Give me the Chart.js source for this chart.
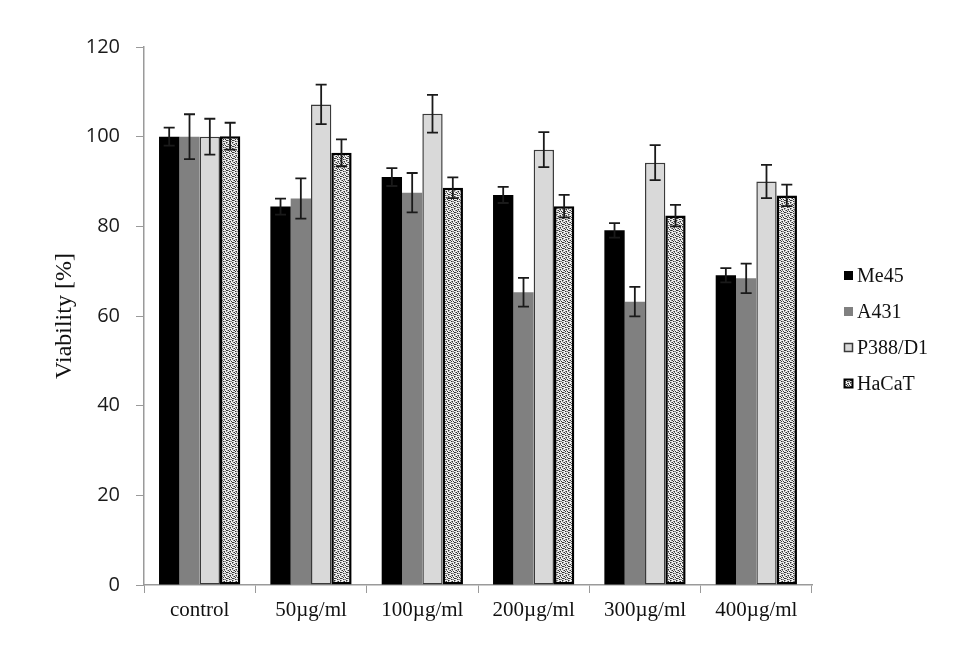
<!DOCTYPE html>
<html>
<head>
<meta charset="utf-8">
<script src="https://cdn.jsdelivr.net/npm/chart.js@4"></script>
<style>
  html, body { margin: 0; padding: 0; background: #fff; }
  #wrap { width: 973px; height: 647px; }
</style>
</head>
<body>
<div id="wrap"><canvas id="viabilityChart" width="973" height="647"></canvas></div>
<script>
// --- Data ---
const categories = ['control', '50\u00b5g/ml', '100\u00b5g/ml', '200\u00b5g/ml', '300\u00b5g/ml', '400\u00b5g/ml'];
const seriesNames = ['Me45', 'A431', 'P388/D1', 'HaCaT'];

const me45Values = [100, 84.4, 91, 87, 79.1, 69.1];
const a431Values = [100, 86.2, 87.5, 65.3, 63.2, 68.4];
const p388Values = [100, 107.2, 105.1, 97.1, 94.2, 90];
const hacatValues = [100.1, 96.4, 88.6, 84.5, 82.4, 86.9];

const me45Errors = [2, 1.8, 2, 1.8, 1.6, 1.6];
const a431Errors = [5, 4.5, 4.4, 3.2, 3.3, 3.3];
const p388Errors = [4, 4.4, 4.2, 3.9, 3.9, 3.7];
const hacatErrors = [3, 3, 2.3, 2.5, 2.4, 2.4];

const yTicks = { min: 0, max: 120, step: 20 };

// --- Stipple pattern for HaCaT ---
function makeStipple() {
    const c = document.createElement('canvas');
    c.width = 6; c.height = 6;
    const g = c.getContext('2d');
    g.fillStyle = '#eeeeee';
    g.fillRect(0, 0, 6, 6);
    const dark = [[0, 0], [3, 1], [1, 3], [4, 4], [5, 2], [2, 5], [1, 1], [4, 2]];
    const mid = [[2, 0], [5, 0], [0, 2], [3, 3], [1, 5], [4, 5], [2, 3], [5, 4]];
    g.fillStyle = '#333333';
    dark.forEach(p => g.fillRect(p[0], p[1], 1, 1));
    g.fillStyle = '#8a8a8a';
    mid.forEach(p => g.fillRect(p[0], p[1], 1, 1));
    return g.createPattern(c, 'repeat');
}
const stipple = makeStipple();

const serif = '"Liberation Serif", "Times New Roman", serif';
const sans = '"Open Sans", "Liberation Sans", sans-serif';

// --- Error bars plugin ---
const errorBarPlugin = {
    id: 'errorBars',
    afterDatasetsDraw(chart) {
        const ctx = chart.ctx;
        const yScale = chart.scales.y;
        ctx.save();
        ctx.strokeStyle = '#1a1a1a';
        ctx.lineWidth = 1.8;
        chart.data.datasets.forEach((ds, i) => {
            const meta = chart.getDatasetMeta(i);
            meta.data.forEach((bar, j) => {
                const v = ds.data[j];
                const e = ds.errors[j];
                const yTop = yScale.getPixelForValue(v + e);
                const yBot = yScale.getPixelForValue(v - e);
                const x = bar.x;
                const half = 5.5;
                ctx.beginPath();
                ctx.moveTo(x, yTop); ctx.lineTo(x, yBot);
                ctx.moveTo(x - half, yTop); ctx.lineTo(x + half, yTop);
                ctx.moveTo(x - half, yBot); ctx.lineTo(x + half, yBot);
                ctx.stroke();
            });
        });
        ctx.restore();
    }
};

// --- Legend plugin (right side) ---
const sideLegendPlugin = {
    id: 'sideLegend',
    afterDraw(chart) {
        const ctx = chart.ctx;
        const area = chart.chartArea;
        const x = area.right + 32;
        const midY = (area.top + area.bottom) / 2 + 14;
        const gap = 36;
        ctx.save();
        ctx.font = '20px ' + serif;
        ctx.textBaseline = 'middle';
        ctx.textAlign = 'left';
        chart.data.datasets.forEach((ds, i) => {
            const y = midY + (i - 1.5) * gap;
            ctx.fillStyle = ds.backgroundColor;
            ctx.fillRect(x, y - 5, 9, 9);
            if (ds.borderWidth) {
                ctx.strokeStyle = ds.borderColor;
                ctx.lineWidth = Math.min(ds.borderWidth, 2);
                ctx.strokeRect(x + 0.5, y - 4.5, 8, 8);
            }
            ctx.fillStyle = '#111';
            ctx.fillText(ds.label, x + 13, y + 1);
        });
        ctx.restore();
    }
};

// --- Chart ---
const ctx = document.getElementById('viabilityChart').getContext('2d');
new Chart(ctx, {
    type: 'bar',
    data: {
        labels: categories,
        datasets: [
            { label: seriesNames[0], data: me45Values, errors: me45Errors, backgroundColor: '#000000', borderWidth: 0 },
            { label: seriesNames[1], data: a431Values, errors: a431Errors, backgroundColor: '#808080', borderWidth: 0 },
            { label: seriesNames[2], data: p388Values, errors: p388Errors, backgroundColor: '#d9d9d9', borderColor: '#3a3a3a', borderWidth: 1.5, borderSkipped: false },
            { label: seriesNames[3], data: hacatValues, errors: hacatErrors, backgroundColor: stipple, borderColor: '#000000', borderWidth: 2.5, borderSkipped: false }
        ]
    },
    options: {
        responsive: false,
        animation: false,
        devicePixelRatio: 1,
        layout: { padding: { left: 0, top: 47, right: 161, bottom: 0 } },
        datasets: { bar: { categoryPercentage: 0.73, barPercentage: 1.0 } },
        plugins: {
            legend: { display: false },
            tooltip: { enabled: false }
        },
        scales: {
            x: {
                offset: true,
                grid: { display: true, drawOnChartArea: false, offset: true, tickLength: 8, color: '#9a9a9a' },
                border: { color: '#9a9a9a', width: 1.5 },
                ticks: { color: '#111', font: { family: serif, size: 21 }, padding: 5, maxRotation: 0 },
                afterFit: s => { s.height = 62; }
            },
            y: {
                min: yTicks.min,
                max: yTicks.max,
                grid: { display: true, drawOnChartArea: false, tickLength: 8, color: '#9a9a9a' },
                border: { color: '#9a9a9a', width: 1.5 },
                ticks: { stepSize: yTicks.step, color: '#1a1a1a', font: { family: sans, size: 20 }, padding: 16 },
                title: { display: true, text: 'Viability [%]', color: '#111', font: { family: serif, size: 24 }, padding: { top: 50, bottom: 0 } },
                afterFit: s => { s.width = 144; }
            }
        }
    },
    plugins: [errorBarPlugin, sideLegendPlugin]
});
</script>
</body>
</html>
